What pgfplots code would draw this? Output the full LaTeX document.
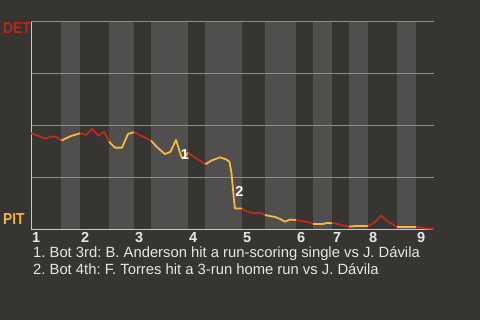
\documentclass[border=0pt]{standalone}
\usepackage{pgfplots}
\pgfplotsset{compat=1.18}
\usepackage{fontspec}
\setmainfont{Liberation Sans}
\frenchspacing
\definecolor{bg}{HTML}{373531}
\definecolor{bandc}{HTML}{504F4D}
\definecolor{gridc}{HTML}{8C8C8C}
\definecolor{axisc}{HTML}{C8C8C8}
\definecolor{redc}{HTML}{BE2A1E}
\definecolor{yelc}{HTML}{F5B942}
\definecolor{detc}{HTML}{B8261C}
\definecolor{pitc}{HTML}{F0B440}
\definecolor{txtc}{HTML}{E6E6E6}
\begin{document}
\begin{tikzpicture}[x=1pt,y=1pt]
\fill[bg] (0,0) rectangle (480,320);
\begin{axis}[at={(31pt,90pt)}, anchor=south west, scale only axis,
  width=403pt, height=208pt, xmin=0, xmax=403, ymin=0, ymax=100,
  axis line style={draw=none}, ytick=\empty,
  xtick={0,49,103,157,211,265,301,337,385},
  xticklabels={1,2,3,4,5,6,7,8,9},
  major tick length=0pt, clip=false,
  /pgf/number format/assume math mode=true,
  xticklabel style={anchor=north west, inner sep=0pt, font=\fontsize{14.5}{14.5}\selectfont\bfseries, text=txtc, yshift=-2pt, xshift=1pt},
  every axis plot/.append style={line width=1.8pt, line join=round}]
% bottom half-inning bands
\fill[bandc] (axis cs:30,0) rectangle (axis cs:49,100);
\fill[bandc] (axis cs:78,0) rectangle (axis cs:103,100);
\fill[bandc] (axis cs:120,0) rectangle (axis cs:157,100);
\fill[bandc] (axis cs:174,0) rectangle (axis cs:211,100);
\fill[bandc] (axis cs:234,0) rectangle (axis cs:265,100);
\fill[bandc] (axis cs:282,0) rectangle (axis cs:301,100);
\fill[bandc] (axis cs:318,0) rectangle (axis cs:337,100);
\fill[bandc] (axis cs:366,0) rectangle (axis cs:385,100);
% grid
\draw[gridc, line width=1pt] (axis cs:0,25) -- (axis cs:403,25);
\draw[gridc, line width=1pt] (axis cs:0,50) -- (axis cs:403,50);
\draw[gridc, line width=1pt] (axis cs:0,75) -- (axis cs:403,75);
\draw[gridc, line width=1pt] (axis cs:0,100) -- (axis cs:403,100);
% axis lines
\draw[axisc, line width=1pt] (axis cs:0,100) -- (axis cs:0,0) -- (axis cs:403,0);
% win probability (DET)
\addplot[redc] coordinates {(0,46.5)(7,45.3)(14,43.9)(20,44.9)(25,44.9)(30.5,43.0)};
\addplot[yelc] coordinates {(30.5,43.0)(39,45.0)(49,46.5)};
\addplot[redc] coordinates {(49,46.5)(55,45.7)(61,48.6)(67.5,45.3)(73,47.3)(78,42.5)};
\addplot[yelc] coordinates {(78,42.5)(84,39.6)(91,39.6)(97,46.2)(103,47.0)};
\addplot[redc] coordinates {(103,47.0)(120,43.0)};
\addplot[yelc] coordinates {(120,43.0)(126,39.8)(134,36.5)(139.5,37.6)(145,43.3)(150.5,35.0)(154,35.0)(157,37.2)};
\addplot[redc] coordinates {(157,37.2)(162,35.5)(169,33.3)(174.5,31.6)};
\addplot[yelc] coordinates {(174.5,31.6)(181,33.5)(189,34.9)(195,34.0)(198.5,32.8)(200.5,27.3)(203,14.4)(204,10.3)(211,10.3)};
\addplot[redc] coordinates {(211,10.3)(214,9.3)(219,8.5)(224,8.0)(229,8.3)(234,7.2)};
\addplot[yelc] coordinates {(234,7.2)(239,6.7)(244,6.3)(249,5.3)(254,4.0)(259,5.0)(265,4.8)};
\addplot[redc] coordinates {(265,4.8)(269,4.5)(274,4.0)(279,3.5)(282,2.9)};
\addplot[yelc] coordinates {(282,2.9)(292,2.9)(296,3.4)(301,3.2)};
\addplot[redc] coordinates {(301,3.2)(304,3.2)(310.7,2.4)(318,1.6)};
\addplot[yelc] coordinates {(318,1.6)(324,1.9)(337,1.9)};
\addplot[redc] coordinates {(337,1.9)(344,3.7)(350,6.9)(357,4.0)(364,2.1)(366,1.4)};
\addplot[yelc] coordinates {(366,1.4)(385,1.4)};
\addplot[redc] coordinates {(385,1.4)(389,1.3)(394,0.8)(403,0.5)};
% event markers
\node[text=white, font=\fontsize{14.5}{14.5}\selectfont\bfseries, inner sep=0pt] at (axis cs:154,36.5) {1};
\node[text=white, font=\fontsize{14.5}{14.5}\selectfont\bfseries, inner sep=0pt] at (axis cs:208.5,18.3) {2};
\end{axis}
\node[anchor=base west, inner sep=0pt, text=detc, font=\fontsize{16}{16}\selectfont\bfseries, xscale=0.86] at (3,286) {DET};
\node[anchor=base west, inner sep=0pt, text=pitc, font=\fontsize{16}{16}\selectfont\bfseries, xscale=0.86] at (3,95) {PIT};
\node[anchor=base west, inner sep=0pt, text=txtc, font=\fontsize{14.8}{14.8}\selectfont] at (33,62) {1. Bot 3rd: B. Anderson hit a run-scoring single vs J. Dávila};
\node[anchor=base west, inner sep=0pt, text=txtc, font=\fontsize{14.8}{14.8}\selectfont] at (33,45) {2. Bot 4th: F. Torres hit a 3-run home run vs J. Dávila};
\end{tikzpicture}
\end{document}
